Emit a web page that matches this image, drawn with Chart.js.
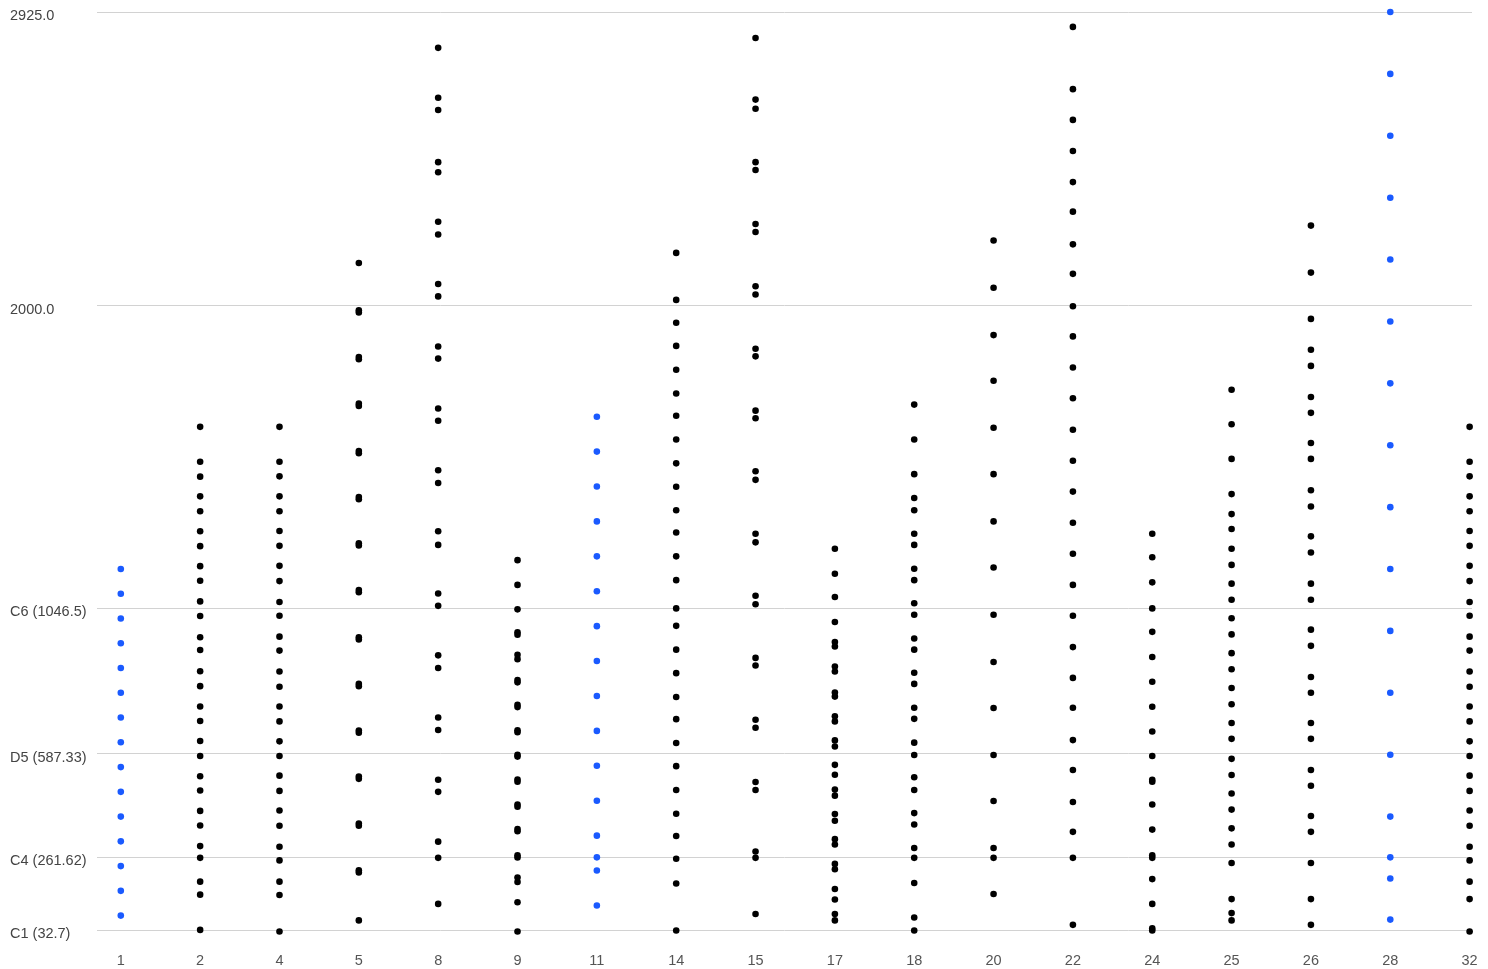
<!DOCTYPE html>
<html>
<head>
<meta charset="utf-8">
<script src="https://cdn.jsdelivr.net/npm/chart.js@4.4.1/dist/chart.umd.min.js"></script>
<style>
html, body { margin: 0; padding: 0; background: #fff; }
</style>
</head>
<body>
<canvas id="chart" width="1488" height="969"></canvas>
<script>
// x categories, evenly spaced
var categories = ['1', '2', '4', '5', '8', '9', '11', '14', '15', '17', '18', '20', '22', '24', '25', '26', '28', '32'];
// columns drawn in blue
var blueColumns = ['1', '11', '28'];

// frequencies (Hz) read per column
var hz_1 = [78, 156, 234, 312, 390, 468, 546, 624, 702, 780, 858, 936, 1014, 1092, 1170];
var hz_2 = [33, 144, 185, 260, 297, 362, 408, 472, 517, 581, 628, 691, 737, 801, 848, 915, 955, 1022, 1068, 1133, 1179, 1242, 1289, 1352, 1399, 1461, 1508, 1618];
var hz_4 = [28, 143, 185, 252, 295, 361, 409, 471, 519, 581, 627, 690, 737, 799, 847, 913, 957, 1023, 1066, 1132, 1180, 1243, 1290, 1352, 1399, 1462, 1508, 1618];
var hz_5 = [63, 214, 221, 361, 368, 509, 516, 654, 661, 801, 808, 948, 955, 1097, 1104, 1244, 1251, 1390, 1397, 1535, 1542, 1684, 1691, 1831, 1838, 1978, 1985, 2134];
var hz_8 = [115, 260, 311, 468, 506, 663, 702, 858, 898, 1054, 1093, 1246, 1289, 1441, 1481, 1637, 1676, 1833, 1871, 2029, 2068, 2224, 2264, 2420, 2452, 2616, 2655, 2812];
var hz_9 = [28, 120, 184, 198, 261, 268, 344, 351, 421, 428, 500, 507, 579, 585, 656, 662, 735, 742, 813, 820, 886, 900, 963, 971, 1043, 1120, 1198];
var hz_11 = [110, 220, 261.63, 330, 440, 550, 660, 770, 880, 990, 1100, 1210, 1320, 1430, 1540, 1650];
var hz_14 = [31, 179, 257, 329, 399, 474, 549, 622, 697, 767, 842, 916, 991, 1046, 1135, 1210, 1285, 1355, 1429, 1503, 1578, 1653, 1723, 1798, 1873, 1946, 2018, 2166];
var hz_15 = [83, 260, 280, 474, 499, 670, 695, 866, 890, 1059, 1086, 1254, 1281, 1451, 1478, 1645, 1669, 1840, 1864, 2035, 2061, 2232, 2257, 2427, 2452, 2620, 2649, 2843];
var hz_17 = [63, 83, 129, 162, 224, 241, 302, 319, 377, 398, 456, 475, 522, 553, 611, 630, 690, 706, 768, 781, 847, 863, 926, 940, 1003, 1082, 1155, 1234];
var hz_18 = [31, 72, 181, 260, 291, 365, 401, 474, 514, 584, 623, 698, 733, 808, 843, 916, 951, 1026, 1062, 1135, 1171, 1246, 1281, 1355, 1394, 1469, 1578, 1688];
var hz_20 = [146, 260, 291, 439, 584, 732, 877, 1026, 1175, 1320, 1469, 1615, 1763, 1907, 2056, 2205];
var hz_22 = [49, 260, 342, 436, 537, 631, 733, 827, 924, 1023, 1120, 1218, 1316, 1414, 1511, 1609, 1708, 1805, 1903, 1998, 2100, 2193, 2296, 2389, 2487, 2585, 2682, 2878];
var hz_24 = [31, 38, 115, 193, 260, 268, 349, 428, 500, 506, 581, 658, 736, 815, 893, 972, 1046, 1128, 1207, 1281];
var hz_25 = [63, 86, 130, 244, 302, 353, 412, 463, 521, 572, 635, 685, 744, 795, 854, 905, 964, 1015, 1073, 1124, 1183, 1234, 1296, 1343, 1406, 1517, 1626, 1735];
var hz_26 = [49, 130, 244, 342, 392, 487, 537, 635, 685, 780, 830, 928, 979, 1073, 1124, 1222, 1273, 1367, 1418, 1517, 1567, 1662, 1712, 1810, 1861, 1958, 2104, 2252];
var hz_28 = [65.41, 195, 261.63, 390, 585, 780, 975, 1170, 1365, 1560, 1755, 1950, 2145, 2340, 2535, 2730, 2925];
var hz_32 = [28, 130, 185, 252, 295, 361, 409, 471, 519, 581, 627, 690, 737, 799, 847, 913, 957, 1023, 1066, 1132, 1180, 1243, 1290, 1352, 1399, 1462, 1508, 1618];

var columns = [hz_1, hz_2, hz_4, hz_5, hz_8, hz_9, hz_11, hz_14, hz_15, hz_17, hz_18, hz_20, hz_22, hz_24, hz_25, hz_26, hz_28, hz_32];

// y axis ticks
var tickValues = [32.7, 261.62, 587.33, 1046.5, 2000, 2925];
var tickLabels = ['C1 (32.7)', 'C4 (261.62)', 'D5 (587.33)', 'C6 (1046.5)', '2000.0', '2925.0'];

var blackPoints = [];
var bluePoints = [];
categories.forEach(function (cat, i) {
    var target = blueColumns.indexOf(cat) != -1 ? bluePoints : blackPoints;
    columns[i].forEach(function (hz) {
        target.push({ x: i, y: hz });
    });
});

var labelFont = { family: "'Liberation Sans', Arial, sans-serif", size: 14.5 };

new Chart(document.getElementById('chart'), {
    type: 'scatter',
    data: {
        datasets: [
            { data: blackPoints, pointRadius: 3.3, pointBackgroundColor: '#000', pointBorderWidth: 0, clip: false },
            { data: bluePoints, pointRadius: 3.3, pointBackgroundColor: '#1a5aff', pointBorderWidth: 0, clip: false }
        ]
    },
    options: {
        responsive: false,
        animation: false,
        layout: { padding: { left: 10, right: 16, top: 12, bottom: 0 } },
        plugins: { legend: { display: false }, tooltip: { enabled: false } },
        scales: {
            x: {
                type: 'linear',
                min: -0.3,
                max: 17.03,
                afterBuildTicks: function (axis) {
                    axis.ticks = categories.map(function (c, i) { return { value: i }; });
                },
                afterFit: function (axis) {
                    axis.height = 39;
                    // keep the plot edges where the layout padding puts them
                    axis.paddingLeft = 0;
                    axis.paddingRight = 0;
                },
                grid: { display: false, drawTicks: false },
                border: { display: false },
                ticks: {
                    padding: 22,
                    autoSkip: false,
                    maxRotation: 0,
                    color: '#555',
                    font: labelFont,
                    callback: function (v) { return categories[v]; }
                }
            },
            y: {
                type: 'linear',
                min: 32.7,
                max: 2925,
                afterBuildTicks: function (axis) {
                    axis.ticks = tickValues.map(function (v) { return { value: v }; });
                },
                afterFit: function (axis) { axis.width = 87; },
                grid: { color: '#d2d2d2', drawTicks: false },
                border: { display: false },
                ticks: {
                    crossAlign: 'far',
                    padding: 0,
                    labelOffset: 4,
                    autoSkip: false,
                    color: '#444',
                    font: labelFont,
                    callback: function (v) {
                        var i = tickValues.indexOf(v);
                        return i != -1 ? tickLabels[i] : '';
                    }
                }
            }
        }
    }
});
</script>
</body>
</html>
